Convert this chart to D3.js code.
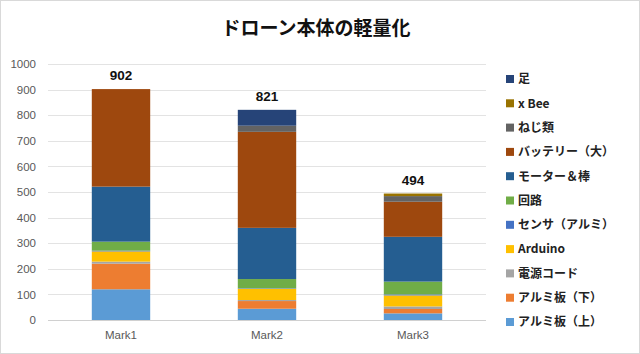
<!DOCTYPE html>
<html>
<head>
<meta charset="utf-8">
<script src="https://cdn.jsdelivr.net/npm/d3@7"></script>
<style>
  body { margin: 0; background: #fff; }
  svg { font-family: "Noto Sans CJK JP", "Noto Sans", sans-serif; }
</style>
</head>
<body>
<div id="chart"></div>
<script>
// categories and series (bottom to top in the stack)
const marks = ["Mark1", "Mark2", "Mark3"];
const seriesNames = ["アルミ板（上）", "アルミ板（下）", "電源コード", "Arduino", "センサ（アルミ）",
  "回路", "モーター＆棒", "バッテリー（大）", "ねじ類", "x Bee", "足"];
const seriesColors = ["#5B9BD5", "#ED7D31", "#A5A5A5", "#FFC000", "#4472C4",
  "#70AD47", "#255E91", "#9E480E", "#636363", "#997300", "#264478"];
// values per series, one per mark
const weights = [
  [120, 44, 26],   // アルミ板（上）
  [100, 30, 17],   // アルミ板（下）
  [8, 4, 10],      // 電源コード
  [40, 44, 43],    // Arduino
  [3, 2, 4],       // センサ（アルミ）
  [35, 36, 50],    // 回路
  [215, 200, 175], // モーター＆棒
  [381, 375, 137], // バッテリー（大）
  [0, 24, 22],     // ねじ類
  [0, 0, 10],      // x Bee
  [0, 62, 0]       // 足
];
const totals = [902, 821, 494];
const yTicks = [0, 100, 200, 300, 400, 500, 600, 700, 800, 900, 1000];

const W = 640, H = 354;
const plot = {left: 48, right: 486, top: 64, bottom: 320};

const svg = d3.select("#chart").append("svg")
  .attr("width", W).attr("height", H);

// chart border
svg.append("rect")
  .attr("x", 0.5).attr("y", 0.5).attr("width", W - 1).attr("height", H - 1)
  .attr("fill", "#fff").attr("stroke", "#d9d9d9");

const x = d3.scaleBand().domain(marks).range([plot.left, plot.right]).paddingInner(0.6).paddingOuter(0.3);
const y = d3.scaleLinear().domain([0, 1000]).range([plot.bottom, plot.top]);

// gridlines
svg.append("g").selectAll("line").data(yTicks).join("line")
  .attr("x1", plot.left).attr("x2", plot.right)
  .attr("y1", d => Math.round(y(d)) + 0.5).attr("y2", d => Math.round(y(d)) + 0.5)
  .attr("stroke", d => d === 0 ? "#d0d0d0" : "#e3e3e3");

// y axis labels
const yAxis = d3.axisLeft(y).tickValues(yTicks).tickFormat(d3.format("d")).tickSize(0).tickPadding(12);
const gy = svg.append("g").attr("transform", `translate(${plot.left},0)`).call(yAxis);
gy.select(".domain").remove();
gy.selectAll("text").attr("fill", "#595959").attr("font-size", 11.5)
  .attr("font-family", "Liberation Sans, Arial, sans-serif");

// x axis labels
const xAxis = d3.axisBottom(x).tickSize(0).tickPadding(11);
const gx = svg.append("g").attr("transform", `translate(0,${plot.bottom})`).call(xAxis);
gx.select(".domain").remove();
gx.selectAll("text").attr("fill", "#595959").attr("font-size", 11.5)
  .attr("font-family", "Liberation Sans, Arial, sans-serif");

// stacked bars
const table = marks.map((m, i) => {
  const row = {mark: m};
  seriesNames.forEach((s, j) => row[s] = weights[j][i]);
  return row;
});
const stacked = d3.stack().keys(seriesNames)(table);

svg.append("g").selectAll("g").data(stacked).join("g")
  .attr("fill", (d, i) => seriesColors[i])
  .selectAll("rect").data(d => d).join("rect")
  .attr("x", d => x(d.data.mark))
  .attr("width", x.bandwidth())
  .attr("y", d => y(d[1]))
  .attr("height", d => y(d[0]) - y(d[1]));

// totals
svg.append("g").selectAll("text").data(totals).join("text")
  .attr("x", (d, i) => x(marks[i]) + x.bandwidth() / 2)
  .attr("y", d => y(d) - 9)
  .attr("text-anchor", "middle")
  .attr("font-size", 13.5).attr("font-weight", "bold").attr("fill", "#111")
  .attr("font-family", "Liberation Sans, Arial, sans-serif")
  .text(d => d);

// title
svg.append("text")
  .attr("x", 316).attr("y", 35)
  .attr("text-anchor", "middle")
  .attr("font-size", 19).attr("font-weight", "bold").attr("fill", "#111")
  .text("ドローン本体の軽量化");

// legend (top item is the top of the stack)
const legendItems = seriesNames.map((s, i) => ({name: s, color: seriesColors[i]})).reverse();
const lg = svg.append("g").selectAll("g").data(legendItems).join("g")
  .attr("transform", (d, i) => `translate(506,${79 + i * 24.3})`);
lg.append("rect").attr("x", 0).attr("y", -4).attr("width", 8).attr("height", 8)
  .attr("fill", d => d.color);
lg.append("text").attr("x", 12).attr("y", 0).attr("dy", "0.36em")
  .attr("font-size", 12).attr("font-weight", "bold").attr("fill", "#222")
  .text(d => d.name);
</script>
</body>
</html>
